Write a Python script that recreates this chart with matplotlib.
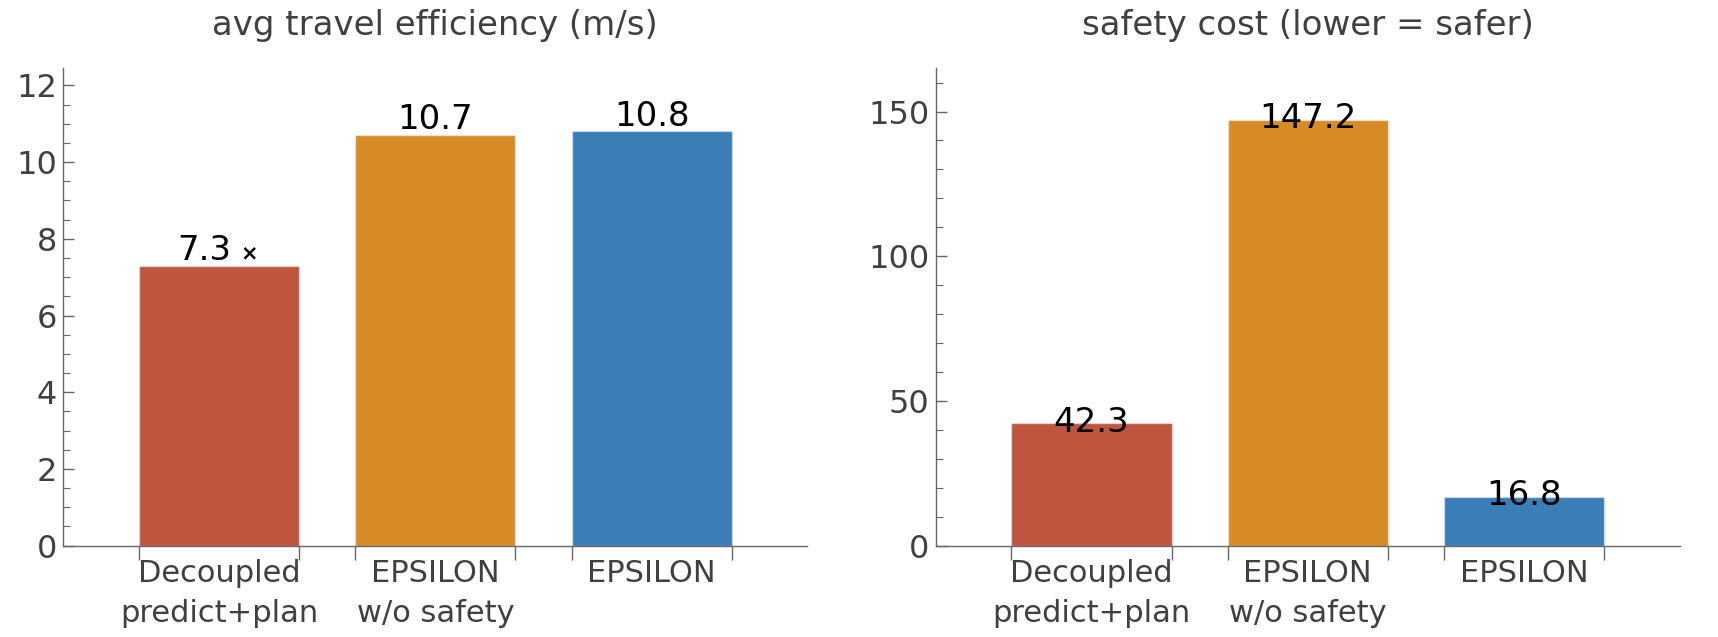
import numpy as np
import matplotlib
matplotlib.use('Agg')
from matplotlib import pyplot as plt
from matplotlib.ticker import MultipleLocator, FixedLocator

methods = ['Decoupled\npredict+plan', 'EPSILON\nw/o safety', 'EPSILON']
efficiency = [7.3, 10.7, 10.8]
safety_cost = [42.3, 147.2, 16.8]
eff_labels = ['7.3', '10.7', '10.8']
cost_labels = ['42.3', '147.2', '16.8']
titles = ['avg travel efficiency (m/s)', 'safety cost (lower = safer)']
colors = ['#C05640', '#D68B26', '#3B7DB7']

GRAY = '#404040'
plt.rcParams['font.family'] = 'DejaVu Sans'

fig = plt.figure(figsize=(17.18, 6.37), dpi=100)
ax1 = fig.add_axes([0.0368, 0.1435, 0.4332, 0.7495])
ax2 = fig.add_axes([0.5447, 0.1435, 0.4330, 0.7495])

setups = [
    (ax1, efficiency, eff_labels, titles[0], 12.45, 2, 0.5),
    (ax2, safety_cost, cost_labels, titles[1], 165, 50, 10),
]

x = np.arange(len(methods))
w = 0.74
off = 0.4
for ax, vals, labs, title, ymax, major, minor in setups:
    ax.bar(x, vals, width=w, color=colors, edgecolor=(1, 1, 1, 0.45), linewidth=1)
    for xi, v, lab in zip(x, vals, labs):
        ax.text(xi, v + off, lab, ha='center', va='center', fontsize=24.5, color='black')
    ax.set_xlim(-0.72, 2.72)
    ax.set_ylim(0, ymax)
    ax.set_title(title, fontsize=24.5, color=GRAY, pad=24)
    for s in ['top', 'right']:
        ax.spines[s].set_visible(False)
    for s in ['left', 'bottom']:
        ax.spines[s].set_color('#666666')
        ax.spines[s].set_linewidth(1)
    ax.yaxis.set_major_locator(MultipleLocator(major))
    ax.yaxis.set_minor_locator(MultipleLocator(minor))
    ax.tick_params(axis='y', which='major', direction='in', length=8, width=1,
                   color='#666666', labelsize=23, labelcolor=GRAY, pad=4.5)
    ax.tick_params(axis='y', which='minor', direction='in', length=5, width=0.8,
                   color='#666666')
    ax.set_xticks(x)
    ax.set_xticklabels(methods, linespacing=1.45)
    edges = np.concatenate([x - w / 2, x + w / 2])
    ax.xaxis.set_minor_locator(FixedLocator(edges))
    ax.tick_params(axis='x', which='major', length=0, labelsize=22, labelcolor=GRAY, pad=10)
    ax.tick_params(axis='x', which='minor', direction='out', length=10, width=1,
                   color='#666666')

# small cross mark after the first efficiency value, a slightly left-shifted "7.3"
ax1.texts[0].set_visible(False)
ax1.annotate(eff_labels[0], (x[0], efficiency[0] + off), xytext=(-10.5, 0),
             textcoords='offset points', ha='center', va='center', fontsize=24.5, color='black')
ax1.annotate('\u00d7', (x[0], efficiency[0] + off), xytext=(22, -2),
             textcoords='offset points', ha='center', va='center', fontsize=15,
             fontweight='bold', color='black')

fig.savefig('out.png', dpi=100)
